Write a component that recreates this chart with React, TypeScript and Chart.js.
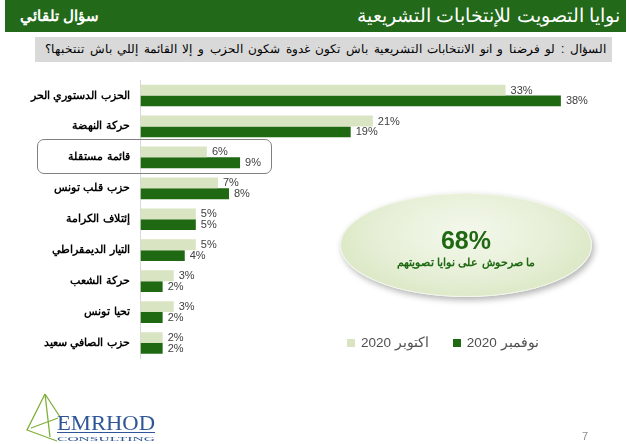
import React, { useEffect, useRef } from "react";
import { Chart, registerables } from "chart.js";

Chart.register(...registerables);

const categories = [
  "الحزب الدستوري الحر",
  "حركة النهضة",
  "قائمة مستقلة",
  "حزب قلب تونس",
  "إئتلاف الكرامة",
  "التيار الديمقراطي",
  "حركة الشعب",
  "تحيا تونس",
  "حزب الصافي سعيد",
];
const october2020 = [33, 21, 6, 7, 5, 5, 3, 3, 2];
const november2020 = [38, 19, 9, 8, 5, 4, 2, 2, 2];
const seriesLabels = ["اكتوبر 2020", "نوفمبر 2020"];
const seriesColors = ["#d9e4c2", "#1f6912"];

const headerTitle = "نوايا التصويت للإنتخابات التشريعية";
const headerTag = "سؤال تلقائي";
const question =
  "السؤال : لو فرضنا و انو الانتخابات التشريعية باش تكون غدوة شكون الحزب و إلا القائمة إللي باش تنتخبها؟";
const bubbleValue = "68%";
const bubbleText = "ما صرحوش على نوايا تصويتهم";

const valueLabels = {
  id: "valueLabels",
  afterDatasetsDraw(chart: any) {
    const ctx = chart.ctx;
    ctx.save();
    ctx.font = "11px 'Liberation Sans', Arial, sans-serif";
    ctx.fillStyle = "#404040";
    ctx.textAlign = "left";
    ctx.textBaseline = "middle";
    chart.data.datasets.forEach((ds: any, di: number) => {
      const meta = chart.getDatasetMeta(di);
      meta.data.forEach((bar: any, i: number) => {
        ctx.fillText(ds.data[i] + "%", bar.x + 5, bar.y + 0.5);
      });
    });
    ctx.restore();
  },
};

export default function App() {
  const canvasRef = useRef<HTMLCanvasElement>(null);

  useEffect(() => {
    if (!canvasRef.current) return;
    const chart = new Chart(canvasRef.current, {
      type: "bar",
      data: {
        labels: categories,
        datasets: [
          {
            label: seriesLabels[0],
            data: october2020,
            backgroundColor: seriesColors[0],
            categoryPercentage: 0.7,
            barPercentage: 1,
          },
          {
            label: seriesLabels[1],
            data: november2020,
            backgroundColor: seriesColors[1],
            categoryPercentage: 0.7,
            barPercentage: 1,
          },
        ],
      },
      options: {
        indexAxis: "y",
        animation: false,
        responsive: false,
        maintainAspectRatio: false,
        layout: { padding: { left: 0, right: 47, top: 80, bottom: 85.5 } },
        plugins: {
          legend: { display: false },
          tooltip: { enabled: false },
        },
        scales: {
          x: { display: false, min: 0, max: 40 },
          y: {
            grid: { display: false, drawTicks: false },
            border: { display: true, color: "#d9d9d9", width: 1 },
            ticks: {
              color: "#000",
              padding: 11,
              font: { family: "'Liberation Sans', Arial, sans-serif", weight: "bold", size: 11 },
            },
            afterFit: (s: any) => {
              s.width = 140.5;
            },
          },
        },
      },
      plugins: [valueLabels],
    });
    return () => chart.destroy();
  }, []);

  return (
    <div
      style={{
        position: "fixed",
        left: 0,
        top: 0,
        width: 630,
        height: 444,
        background: "#fff",
        overflow: "hidden",
        fontFamily: "'Liberation Sans', Arial, sans-serif",
      }}
    >
      <div
        style={{
          position: "absolute",
          left: 5,
          top: 0,
          width: 621,
          height: 32,
          background: "#22691a",
        }}
      />
      <div
        dir="rtl"
        style={{
          position: "absolute",
          right: 10,
          top: 2,
          color: "#fff",
          fontSize: 19,
          lineHeight: "28px",
          whiteSpace: "nowrap",
        }}
      >
        {headerTitle}
      </div>
      <div
        dir="rtl"
        style={{
          position: "absolute",
          left: 20,
          top: 5,
          color: "#fff",
          fontSize: 15,
          fontWeight: "bold",
          lineHeight: "22px",
          whiteSpace: "nowrap",
        }}
      >
        {headerTag}
      </div>
      <div
        dir="rtl"
        style={{
          position: "absolute",
          left: 35,
          top: 37,
          width: 577,
          height: 25,
          background: "#d9d9d9",
          color: "#000",
          fontSize: 12.2,
          wordSpacing: 2.2,
          lineHeight: "25px",
          paddingRight: 6,
          boxSizing: "border-box",
          whiteSpace: "nowrap",
          overflow: "hidden",
        }}
      >
        {question}
      </div>

      <canvas
        ref={canvasRef}
        width={630}
        height={444}
        style={{ position: "absolute", left: 0, top: 0, width: 630, height: 444 }}
      />

      <div
        style={{
          position: "absolute",
          left: 37,
          top: 139,
          width: 235,
          height: 35,
          border: "1.5px solid #808080",
          borderRadius: 7,
          boxSizing: "border-box",
          pointerEvents: "none",
        }}
      />

      <div
        style={{
          position: "absolute",
          left: 340,
          top: 193,
          width: 252,
          height: 104,
          borderRadius: "50%",
          background: "radial-gradient(ellipse at 50% 38%, #f4f8ec 0%, #e6efd6 50%, #d2e1b7 100%)",
          boxShadow: "2px 3px 6px rgba(0,0,0,0.3)",
          border: "1px solid #f0f5e8",
          boxSizing: "border-box",
        }}
      />
      <div
        style={{
          position: "absolute",
          left: 340,
          top: 226,
          width: 252,
          textAlign: "center",
          color: "#1f6912",
          fontWeight: "bold",
          fontSize: 25,
          lineHeight: "28px",
        }}
      >
        {bubbleValue}
      </div>
      <div
        dir="rtl"
        style={{
          position: "absolute",
          left: 340,
          top: 253,
          width: 252,
          textAlign: "center",
          color: "#1f6912",
          fontWeight: "bold",
          fontSize: 11,
          lineHeight: "18px",
        }}
      >
        {bubbleText}
      </div>

      <div
        style={{
          position: "absolute",
          left: 347,
          top: 334,
          display: "flex",
          alignItems: "center",
          fontSize: 13.5,
          color: "#505050",
          lineHeight: "18px",
          whiteSpace: "nowrap",
        }}
      >
        {seriesLabels.map((l, i) => (
          <div key={i} style={{ display: "flex", alignItems: "center", marginRight: 24 }}>
            <span
              style={{
                display: "inline-block",
                width: 8,
                height: 8,
                background: seriesColors[i],
                marginRight: 6,
              }}
            />
            <span>{l}</span>
          </div>
        ))}
      </div>

      <svg
        style={{ position: "absolute", left: 0, top: 385 }}
        width={180}
        height={59}
        viewBox="0 385 180 59"
      >
        <g stroke="#7fb03a" strokeWidth={1.3} fill="none">
          <polyline points="45,394 27,430 57,441" />
          <line x1={45} y1={394} x2={62} y2={420} />
          <line x1={45} y1={394} x2={50} y2={437} />
          <line x1={31} y1={428} x2={58} y2={418} />
        </g>
        <text
          x={57}
          y={430}
          fontFamily="'Liberation Serif', 'DejaVu Serif', serif"
          fontSize={21}
          fill="#2e5597"
          textLength={98}
          lengthAdjust="spacingAndGlyphs"
        >
          EMRHOD
        </text>
        <line x1={57} y1={432.5} x2={155} y2={432.5} stroke="#2e5597" strokeWidth={1} />
        <text
          x={57}
          y={440.5}
          fontFamily="'Liberation Serif', 'DejaVu Serif', serif"
          fontSize={6.5}
          fill="#2e5597"
          textLength={98}
          lengthAdjust="spacingAndGlyphs"
        >
          CONSULTING
        </text>
      </svg>

      <div
        style={{
          position: "absolute",
          left: 582,
          top: 430,
          fontSize: 11,
          color: "#8c8c8c",
          lineHeight: "13px",
        }}
      >
        7
      </div>
    </div>
  );
}
